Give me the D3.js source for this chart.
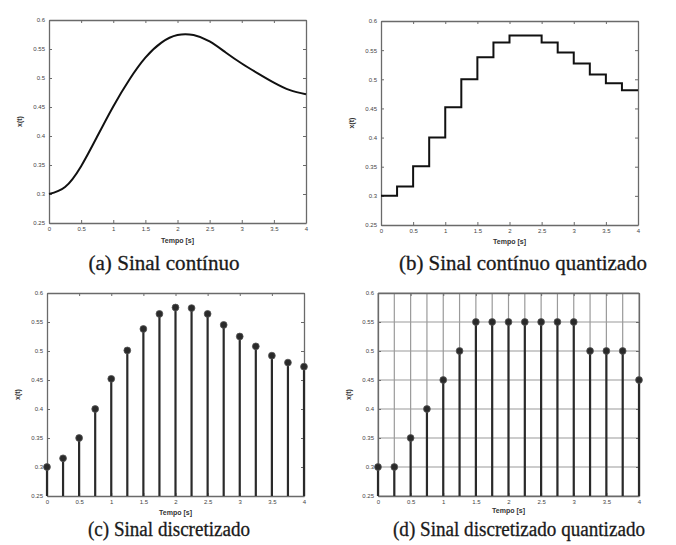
<!DOCTYPE html>
<html>
<head>
<meta charset="utf-8">
<script src="https://cdn.jsdelivr.net/npm/d3@7"></script>
<style>
  html, body { margin: 0; padding: 0; background: #fff; }
  svg { display: block; }
  .cap { font-family: "Liberation Serif", "Times New Roman", Times, serif; }
  .sans { font-family: "Liberation Sans", Arial, sans-serif; }
</style>
</head>
<body>
<svg id="chart" width="676" height="545"></svg>
<script>
// ---------- data ----------
const xTicks = [0, 0.5, 1, 1.5, 2, 2.5, 3, 3.5, 4];
const xTickLabels = ["0", "0.5", "1", "1.5", "2", "2.5", "3", "3.5", "4"];
const yTicks = [0.25, 0.3, 0.35, 0.4, 0.45, 0.5, 0.55, 0.6];
const yTickLabels = ["0.25", "0.3", "0.35", "0.4", "0.45", "0.5", "0.55", "0.6"];

// (a) continuous signal
const contTime = [0, 0.25, 0.5, 0.75, 1, 1.25, 1.5, 1.75, 2, 2.25, 2.5, 2.75, 3, 3.25, 3.5, 3.75, 4];
const contValue = [0.300, 0.312, 0.348, 0.399, 0.451, 0.497, 0.535, 0.561, 0.574, 0.574, 0.563, 0.544, 0.525, 0.508, 0.492, 0.479, 0.472];

// (b) quantized continuous signal (stairs: level held from each start time)
const stepStart = [0, 0.25, 0.5, 0.75, 1, 1.25, 1.5, 1.75, 2, 2.25, 2.5, 2.75, 3, 3.25, 3.5, 3.75];
const stepLevel = [0.300, 0.316, 0.351, 0.400, 0.452, 0.500, 0.538, 0.563, 0.575, 0.575, 0.563, 0.546, 0.527, 0.508, 0.493, 0.481];

// (c) sampled signal
const sampleTime = [0, 0.25, 0.5, 0.75, 1, 1.25, 1.5, 1.75, 2, 2.25, 2.5, 2.75, 3, 3.25, 3.5, 3.75, 4];
const sampleValue = [0.300, 0.315, 0.350, 0.400, 0.452, 0.501, 0.538, 0.564, 0.575, 0.574, 0.564, 0.545, 0.525, 0.508, 0.492, 0.480, 0.473];

// (d) sampled and quantized signal
const quantValue = [0.30, 0.30, 0.35, 0.40, 0.45, 0.50, 0.55, 0.55, 0.55, 0.55, 0.55, 0.55, 0.55, 0.50, 0.50, 0.50, 0.45];
const gridXTicks = [0, 0.25, 0.5, 0.75, 1, 1.25, 1.5, 1.75, 2, 2.25, 2.5, 2.75, 3, 3.25, 3.5, 3.75, 4];

const captions = ["(a) Sinal contínuo", "(b) Sinal contínuo quantizado", "(c) Sinal discretizado", "(d) Sinal discretizado quantizado"];
const xLabel = "Tempo [s]";
const yLabel = "x(t)";

// ---------- layout ----------
const svg = d3.select("#chart");
const panels = [
  { left: 49, right: 306, top: 20, bottom: 223, capX: 164, capW: 151, capY: 270, labY: 243 },
  { left: 381, right: 638, top: 21, bottom: 225, capX: 523, capW: 248, capY: 270, labY: 244 },
  { left: 47, right: 304, top: 293, bottom: 496, capX: 169, capW: 162, capY: 536, labY: 515 },
  { left: 378, right: 639, top: 293, bottom: 496, capX: 519, capW: 252, capY: 536, labY: 513 }
];

function panel(i) {
  const p = panels[i];
  const x = d3.scaleLinear().domain([0, 4]).range([p.left, p.right]);
  const y = d3.scaleLinear().domain([0.25, 0.6]).range([p.bottom, p.top]);
  const g = svg.append("g");

  if (i === 3) {
    g.append("g").selectAll("line").data(gridXTicks).join("line")
      .attr("x1", d => x(d)).attr("x2", d => x(d))
      .attr("y1", p.top).attr("y2", p.bottom)
      .attr("stroke", "#9a9a9a").attr("stroke-width", 1.2);
    g.append("g").selectAll("line").data(yTicks).join("line")
      .attr("x1", p.left).attr("x2", p.right)
      .attr("y1", d => y(d)).attr("y2", d => y(d))
      .attr("stroke", "#9a9a9a").attr("stroke-width", 1.2);
  }

  const fmtX = d => xTickLabels[xTicks.indexOf(d)];
  const fmtY = d => yTickLabels[yTicks.indexOf(d)];
  const axB = g.append("g").attr("transform", `translate(0,${p.bottom})`)
    .call(d3.axisBottom(x).tickValues(xTicks).tickFormat(fmtX).tickSizeInner(-3).tickSizeOuter(0).tickPadding(4));
  const axL = g.append("g").attr("transform", `translate(${p.left},0)`)
    .call(d3.axisLeft(y).tickValues(yTicks).tickFormat(fmtY).tickSizeInner(-3).tickSizeOuter(0).tickPadding(4));
  const axT = g.append("g").attr("transform", `translate(0,${p.top})`)
    .call(d3.axisTop(x).tickValues(xTicks).tickFormat("").tickSizeInner(-3).tickSizeOuter(0));
  const axR = g.append("g").attr("transform", `translate(${p.right},0)`)
    .call(d3.axisRight(y).tickValues(yTicks).tickFormat("").tickSizeInner(-3).tickSizeOuter(0));
  [axB, axL, axT, axR].forEach(a => {
    a.attr("font-family", null);
    a.select(".domain").attr("stroke", "#6a6a6a").attr("stroke-width", 1.3);
    a.selectAll(".tick line").attr("stroke", "#6a6a6a");
    a.selectAll("text").attr("class", "sans").attr("font-size", 6).attr("fill", "#444");
  });

  g.append("text").attr("class", "sans").attr("x", (p.left + p.right) / 2).attr("y", p.labY)
    .attr("text-anchor", "middle")
    .attr("font-size", 7).attr("font-weight", "bold").attr("fill", "#333").text(xLabel);
  g.append("text").attr("class", "sans")
    .attr("transform", `translate(${p.left - 27},${(p.top + p.bottom) / 2}) rotate(-90)`)
    .attr("text-anchor", "middle")
    .attr("font-size", 7).attr("font-weight", "bold").attr("fill", "#333").text(yLabel);

  g.append("text").attr("class", "cap").attr("x", p.capX).attr("y", p.capY)
    .attr("text-anchor", "middle")
    .attr("font-size", 20).attr("fill", "#1a1a1a").attr("stroke", "#1a1a1a").attr("stroke-width", 0.3)
    .attr("textLength", p.capW).attr("lengthAdjust", "spacingAndGlyphs")
    .text(captions[i]);

  return { g, x, y };
}

// (a)
{
  const { g, x, y } = panel(0);
  const line = d3.line().x((d, k) => x(contTime[k])).y(d => y(d)).curve(d3.curveNatural);
  g.append("path").datum(contValue).attr("d", line)
    .attr("fill", "none").attr("stroke", "#111").attr("stroke-width", 2);
}
// (b)
{
  const { g, x, y } = panel(1);
  const pts = stepStart.map((t, k) => [t, stepLevel[k]]);
  pts.push([4, stepLevel[stepLevel.length - 1]]);
  const line = d3.line().x(d => x(d[0])).y(d => y(d[1])).curve(d3.curveStepAfter);
  g.append("path").datum(pts).attr("d", line)
    .attr("fill", "none").attr("stroke", "#111").attr("stroke-width", 2);
}
// (c) and (d)
function stems(i, vals) {
  const { g, x, y } = panel(i);
  const pts = sampleTime.map((t, k) => [t, vals[k]]);
  g.append("g").selectAll("line").data(pts).join("line")
    .attr("x1", d => x(d[0])).attr("x2", d => x(d[0]))
    .attr("y1", y(0.25)).attr("y2", d => y(d[1]))
    .attr("stroke", "#2a2a2a").attr("stroke-width", 2.2);
  g.append("g").selectAll("circle").data(pts).join("circle")
    .attr("cx", d => x(d[0])).attr("cy", d => y(d[1])).attr("r", 3.4)
    .attr("fill", "#2a2a2a").attr("stroke", "#555").attr("stroke-width", 0.8);
}
stems(2, sampleValue);
stems(3, quantValue);
</script>
</body>
</html>
